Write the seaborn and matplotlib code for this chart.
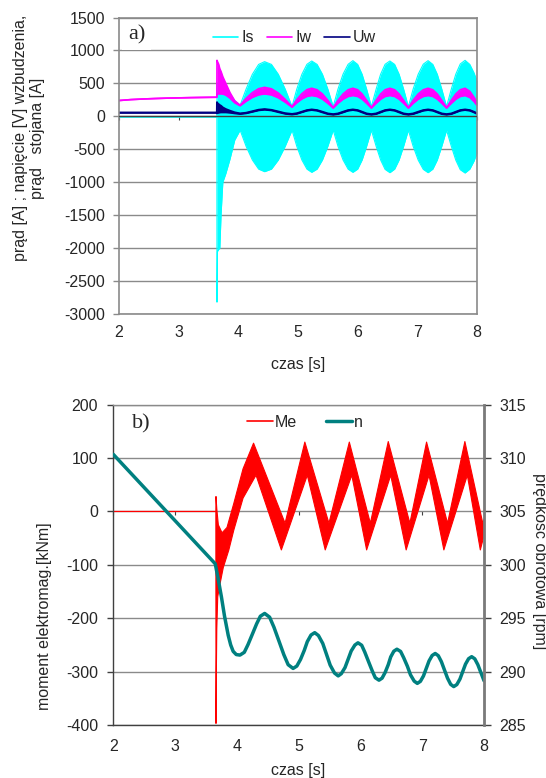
import matplotlib
matplotlib.use("Agg")
import matplotlib.pyplot as plt
import seaborn as sns
from matplotlib.lines import Line2D

# ---------------- panel a) data ----------------
t_pre = [2.0, 2.2, 2.4, 2.6, 2.8, 3.0, 3.2, 3.4, 3.64]
is_pre = [-10, -10, -10, -10, -10, -10, -10, -10, -10]
iw_pre = [240, 254, 263, 270, 276, 280, 284, 287, 290]
uw_pre = [55, 55, 55, 55, 55, 55, 55, 55, 55]

# time points after the fault (envelopes of the dense oscillations)
t_post = [3.642, 3.65, 3.67, 3.69, 3.71, 3.74, 3.79, 3.86, 3.94, 4.03,
          4.13, 4.235, 4.34, 4.44,
          4.555, 4.67, 4.785, 4.90,
          4.98, 5.065, 5.15, 5.23,
          5.32, 5.41, 5.50, 5.59,
          5.67, 5.755, 5.84, 5.92,
          6.00, 6.075, 6.15, 6.23,
          6.31, 6.385, 6.46, 6.54,
          6.62, 6.695, 6.77, 6.85,
          6.93, 7.015, 7.10, 7.18,
          7.26, 7.335, 7.41, 7.49,
          7.57, 7.645, 7.72, 7.80,
          7.88, 7.95, 8.00]

# stator current Is
is_hi = [480, 500, 500, 500, 490, 470, 440, 340, 240, 170,
         414, 638, 788, 830,
         788, 638, 414, 150,
         414, 638, 790, 840,
         788, 638, 414, 150,
         414, 640, 790, 845,
         788, 638, 414, 150,
         414, 640, 790, 840,
         788, 638, 414, 150,
         414, 640, 792, 845,
         788, 638, 414, 150,
         414, 640, 795, 850,
         788, 660, 540]
is_lo = [-2820, -2050, -2020, -2000, -1500, -1000, -870, -650, -360, -210,
         -455, -662, -801, -840,
         -801, -662, -455, -210,
         -455, -662, -801, -850,
         -801, -662, -455, -210,
         -455, -662, -801, -850,
         -801, -662, -455, -210,
         -455, -662, -805, -855,
         -801, -662, -455, -210,
         -455, -665, -805, -855,
         -801, -662, -455, -210,
         -455, -665, -810, -860,
         -801, -680, -560]

# field current Iw
iw_hi = [850, 830, 790, 720, 680, 600, 500, 360, 235, 168,
         272, 360, 419, 440,
         418, 354, 258, 145,
         253, 344, 405, 426,
         403, 339, 243, 132,
         243, 339, 403, 426,
         403, 339, 243, 132,
         243, 339, 403, 426,
         403, 339, 243, 132,
         243, 339, 403, 426,
         403, 339, 243, 132,
         243, 339, 403, 426,
         380, 290, 216]
iw_lo = [340, 341, 341, 341, 341, 338, 322, 275, 205, 160,
         229, 287, 326, 340,
         325, 281, 215, 138,
         206, 264, 302, 316,
         301, 260, 198, 125,
         198, 260, 301, 316,
         301, 260, 198, 125,
         198, 260, 301, 316,
         301, 260, 198, 125,
         198, 260, 301, 316,
         301, 260, 198, 125,
         198, 260, 301, 316,
         285, 225, 166]

# field voltage Uw
uw_hi = [215, 200, 185, 170, 160, 135, 110, 85, 60, 44,
         54, 77, 100, 109,
         98, 73, 47, 36,
         46, 70, 94, 104,
         94, 69, 43, 33,
         43, 69, 94, 104,
         94, 69, 43, 33,
         43, 69, 94, 104,
         94, 69, 43, 33,
         43, 69, 94, 104,
         94, 69, 43, 33,
         43, 69, 94, 104,
         94, 69, 46]
uw_lo = [45, 50, 55, 58, 60, 60, 60, 55, 45, 36,
         46, 68, 91, 101,
         90, 64, 39, 28,
         38, 62, 86, 96,
         86, 60, 35, 25,
         35, 60, 86, 96,
         86, 60, 35, 25,
         35, 60, 86, 96,
         86, 60, 35, 25,
         35, 60, 86, 96,
         86, 60, 35, 25,
         35, 60, 86, 96,
         86, 60, 38]

# ---------------- panel b) data ----------------
# electromagnetic torque Me: upper and lower edges of the dense band
t_me_hi = [2.0, 3.66, 3.662, 3.675, 3.70, 3.76, 3.84, 3.95, 4.10, 4.27, 4.78, 5.10,
           5.49, 5.82, 6.16, 6.45, 6.80, 7.07, 7.41, 7.69, 7.98, 8.00]
me_hi = [0, 0, 28, 5, -25, -40, -30, 15, 80, 128, -22, 130,
         -22, 130, -22, 131, -22, 130, -22, 131, -22, -15]
t_me_lo = [2.0, 3.66, 3.662, 3.668, 3.675, 3.69, 3.72, 3.78, 3.87, 3.95, 4.10, 4.31,
           4.72, 5.14, 5.43, 5.86, 6.10, 6.49, 6.74, 7.11, 7.35, 7.73, 7.94, 8.00]
me_lo = [0, 0, -397, -300, -220, -160, -140, -105, -72, -35, 25, 68,
         -72, 68, -72, 68, -72, 68, -72, 68, -72, 68, -72, -45]

# rotational speed n [rpm]
t_n = [2.0, 3.65, 3.70, 3.75, 3.80, 3.86, 3.90, 3.94, 3.99, 4.05,
       4.12, 4.18, 4.25, 4.32, 4.38, 4.45,
       4.53, 4.60, 4.68, 4.76, 4.83, 4.91,
       4.97, 5.03, 5.09, 5.14, 5.20, 5.26,
       5.32, 5.39, 5.45, 5.51, 5.58, 5.64,
       5.69, 5.75, 5.80, 5.85, 5.91, 5.96,
       6.02, 6.07, 6.13, 6.19, 6.24, 6.30,
       6.35, 6.40, 6.45, 6.49, 6.54, 6.59,
       6.65, 6.70, 6.76, 6.81, 6.87, 6.92,
       6.97, 7.02, 7.065, 7.11, 7.16, 7.21,
       7.26, 7.31, 7.36, 7.41, 7.46, 7.51,
       7.56, 7.61, 7.655, 7.70, 7.75, 7.80,
       7.85, 7.90, 7.95, 8.00]
n_val = [310.35, 300.1, 298.6, 297.0, 295.2, 293.4, 292.5, 291.9, 291.6, 291.55,
         291.81, 292.53, 293.50, 294.48, 295.19, 295.45,
         295.10, 294.16, 292.88, 291.59, 290.65, 290.3,
         290.52, 291.14, 291.98, 292.81, 293.43, 293.65,
         293.38, 292.64, 291.63, 290.61, 289.87, 289.6,
         289.81, 290.38, 291.15, 291.93, 292.49, 292.7,
         292.47, 291.83, 290.95, 290.08, 289.43, 289.2,
         289.39, 289.93, 290.65, 291.38, 291.91, 292.1,
         291.89, 291.30, 290.50, 289.70, 289.11, 288.9,
         289.09, 289.60, 290.30, 291.00, 291.51, 291.7,
         291.49, 290.93, 290.15, 289.38, 288.81, 288.6,
         288.79, 289.30, 290.00, 290.70, 291.21, 291.4,
         291.2, 290.65, 289.9, 289.15]

x_ticks = [2, 3, 4, 5, 6, 7, 8]
ya_ticks = [-3000, -2500, -2000, -1500, -1000, -500, 0, 500, 1000, 1500]
yb_ticks = [-400, -300, -200, -100, 0, 100, 200]
yn_ticks = [285, 290, 295, 300, 305, 310, 315]

C_IS, C_IW, C_UW = "#00FFFF", "#FF00FF", "#000080"
C_ME, C_N = "#FF0000", "#008080"
GRID = "#8a8a8a"
DARK = "#404040"
FS = 11.5

sns.set_style("white")
plt.rcParams["font.family"] = ["Liberation Sans", "DejaVu Sans"]
plt.rcParams["font.size"] = FS
plt.rcParams["axes.unicode_minus"] = False

fig = plt.figure(figsize=(5.46, 7.78), dpi=100)
axa = fig.add_axes([0.218, 0.5964, 0.6556, 0.3811])
axb = fig.add_axes([0.2075, 0.0681, 0.679, 0.4117])


def band(ax, t, lo, hi, color, lw, z):
    ax.fill_between(t, lo, hi, color=color, lw=0, zorder=z)
    sns.lineplot(x=t, y=lo, ax=ax, color=color, lw=lw, estimator=None, sort=False, zorder=z)
    sns.lineplot(x=t, y=hi, ax=ax, color=color, lw=lw, estimator=None, sort=False, zorder=z)


# ---------------- panel a) ----------------
band(axa, t_pre + t_post, is_pre + is_lo, is_pre + is_hi, C_IS, 0.8, 1.5)
band(axa, t_pre + t_post, iw_pre + iw_lo, iw_pre + iw_hi, C_IW, 1.2, 1.6)
band(axa, t_pre + t_post, uw_pre + uw_lo, uw_pre + uw_hi, C_UW, 1.4, 1.7)
axa.axhline(0, color=DARK, lw=1.0, zorder=3)

axa.set_xlim(2, 8)
axa.set_ylim(-3000, 1500)
axa.set_xticks(x_ticks)
axa.set_yticks(ya_ticks)
axa.yaxis.grid(True, color=GRID, lw=1)
axa.xaxis.grid(False)
axa.set_axisbelow(True)
for s in ["left", "bottom", "right", "top"]:
    axa.spines[s].set_visible(True)
    axa.spines[s].set_color(GRID)
    axa.spines[s].set_linewidth(1.2)
axa.tick_params(axis="x", length=0, pad=8, labelsize=FS)
axa.tick_params(axis="y", left=True, length=4, width=1, color=GRID, pad=6, labelsize=FS)
axa.set_xlabel("")
axa.set_ylabel("")

seca = axa.secondary_xaxis(0, transform=axa.transData)
seca.set_xticks(x_ticks)
seca.tick_params(direction="out", length=3, color=DARK, labelbottom=False)
seca.spines["bottom"].set_visible(False)

axa.text(0.025, 0.94, "a)", transform=axa.transAxes, fontsize=16,
         family=["Liberation Serif", "DejaVu Serif"], ha="left", va="center",
         bbox=dict(facecolor="white", edgecolor="none", pad=4), zorder=5)

handles_a = [Line2D([], [], color=C_IS, lw=1.2), Line2D([], [], color=C_IW, lw=1.2),
             Line2D([], [], color=C_UW, lw=1.2)]
axa.legend(handles_a, ["Is", "Iw", "Uw"], loc="center", bbox_to_anchor=(0.49, 0.931),
           ncol=3, frameon=False, fontsize=FS, handlelength=1.6, handletextpad=0.2,
           columnspacing=0.8, borderaxespad=0)

fig.text(29 / 546, 1 - 138 / 778, "prąd [A] ; napięcie [V] wzbudzenia,\nprąd   stojana [A]",
         rotation=90, ha="center", va="center", multialignment="center",
         fontsize=FS, linespacing=1.1)
fig.text(298 / 546, 1 - 365 / 778, "czas [s]", ha="center", va="center", fontsize=FS)

# ---------------- panel b) ----------------
axb.fill(t_me_hi + t_me_lo[::-1], me_hi + me_lo[::-1], color=C_ME, lw=0, zorder=1.5)
sns.lineplot(x=t_me_hi, y=me_hi, ax=axb, color=C_ME, lw=0.8, estimator=None, sort=False, zorder=1.5)
sns.lineplot(x=t_me_lo, y=me_lo, ax=axb, color=C_ME, lw=0.8, estimator=None, sort=False, zorder=1.5)
axb.set_xlim(2, 8)
axb.set_ylim(-400, 200)
axb.set_xticks(x_ticks)
axb.set_yticks(yb_ticks)
axb.yaxis.grid(True, color=GRID, lw=1)
axb.xaxis.grid(False)
axb.set_axisbelow(True)
for s in ["left", "bottom", "top"]:
    axb.spines[s].set_visible(True)
    axb.spines[s].set_color(DARK)
    axb.spines[s].set_linewidth(1.0)
axb.spines["top"].set_color(GRID)
axb.tick_params(axis="x", length=0, pad=10, labelsize=FS)
axb.tick_params(axis="y", left=True, length=4, width=1, color=DARK, pad=7, labelsize=FS)
axb.set_xlabel("")
axb.set_ylabel("")

secb = axb.secondary_xaxis(0, transform=axb.transData)
secb.set_xticks(x_ticks)
secb.tick_params(direction="out", length=3, color=DARK, labelbottom=False)
secb.spines["bottom"].set_visible(False)

axn = axb.twinx()
sns.lineplot(x=t_n, y=n_val, ax=axn, color=C_N, lw=2.5, estimator=None, sort=False)
axn.set_ylim(285, 315)
axn.set_yticks(yn_ticks)
axn.set_ylabel("")
axn.grid(False)
for s in ["left", "bottom", "top"]:
    axn.spines[s].set_visible(False)
axn.spines["right"].set_visible(True)
axn.spines["right"].set_color("#7a7a7a")
axn.spines["right"].set_linewidth(2)
axn.tick_params(axis="y", right=True, length=5, width=1, color=DARK, pad=6, labelsize=FS)

axn.text(0.05, 0.94, "b)", transform=axn.transAxes, fontsize=16,
         family=["Liberation Serif", "DejaVu Serif"], ha="left", va="center", zorder=5)
handles_b = [Line2D([], [], color=C_ME, lw=1.2), Line2D([], [], color=C_N, lw=2.5)]
axn.legend(handles_b, ["Me", "n"], loc="center", bbox_to_anchor=(0.517, 0.946),
           ncol=2, frameon=False, fontsize=FS, handlelength=1.6, handletextpad=0.15,
           columnspacing=1.8, borderaxespad=0)

fig.text(45 / 546, 1 - 616 / 778, "moment elektromag.[kNm]", rotation=90,
         ha="center", va="center", fontsize=FS)
fig.text(539 / 546, 1 - 561 / 778, "prędkosc obrotowa [rpm]", rotation=270,
         ha="center", va="center", fontsize=FS)
fig.text(298 / 546, 1 - 771 / 778, "czas [s]", ha="center", va="center", fontsize=FS)

fig.savefig("out.png", dpi=100, facecolor="white")
